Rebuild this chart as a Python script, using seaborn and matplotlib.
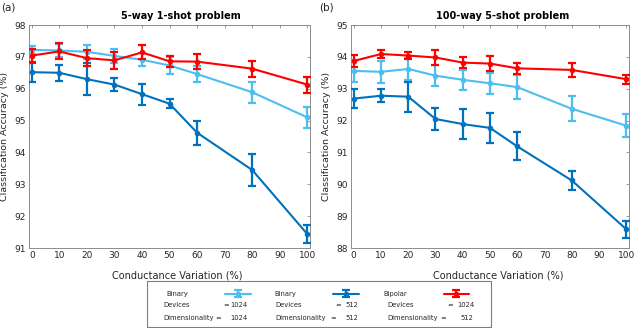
import numpy as np
import pandas as pd
import matplotlib
matplotlib.use("Agg")
import matplotlib.pyplot as plt
from matplotlib.patches import Rectangle
import seaborn as sns

# ---------------- data ----------------
variation = [0, 10, 20, 30, 40, 50, 60, 80, 100]

a_bin1024 = [97.22, 97.20, 97.16, 97.03, 96.91, 96.73, 96.46, 95.89, 95.10]
a_bin1024_err = [0.13, 0.19, 0.22, 0.22, 0.21, 0.26, 0.25, 0.33, 0.33]
a_bin512 = [96.52, 96.50, 96.30, 96.13, 95.83, 95.53, 94.62, 93.45, 91.44]
a_bin512_err = [0.30, 0.25, 0.50, 0.21, 0.33, 0.15, 0.38, 0.50, 0.28]
a_bip1024 = [97.04, 97.17, 96.96, 96.89, 97.14, 96.86, 96.85, 96.63, 96.13]
a_bip1024_err = [0.20, 0.25, 0.24, 0.27, 0.22, 0.18, 0.23, 0.25, 0.25]

b_bin1024 = [93.56, 93.53, 93.62, 93.41, 93.28, 93.17, 93.05, 92.37, 91.84]
b_bin1024_err = [0.35, 0.35, 0.34, 0.34, 0.31, 0.33, 0.38, 0.39, 0.37]
b_bin512 = [92.69, 92.78, 92.75, 92.05, 91.89, 91.77, 91.19, 90.12, 88.59]
b_bin512_err = [0.30, 0.20, 0.47, 0.35, 0.48, 0.46, 0.44, 0.29, 0.27]
b_bip1024 = [93.87, 94.09, 94.04, 93.98, 93.82, 93.79, 93.64, 93.59, 93.30]
b_bip1024_err = [0.20, 0.13, 0.12, 0.22, 0.17, 0.23, 0.18, 0.23, 0.14]

series_names = ["Binary", "Binary", "Bipolar"]
series_devices = ["1024", "512", "1024"]
series_dims = ["1024", "512", "512"]
series_colors = ["#4DBEEE", "#0072BD", "#FF0000"]

titles = ["5-way 1-shot problem", "100-way 5-shot problem"]
panel_tags = ["(a)", "(b)"]
xlabel = "Conductance Variation (%)"
ylabel = "Classification Accuracy (%)"
xticks = list(range(0, 101, 10))
a_yticks = list(range(91, 99))
b_yticks = list(range(88, 96))

panels = [
    ([a_bin1024, a_bin512, a_bip1024], [a_bin1024_err, a_bin512_err, a_bip1024_err], a_yticks),
    ([b_bin1024, b_bin512, b_bip1024], [b_bin1024_err, b_bin512_err, b_bip1024_err], b_yticks),
]

# ---------------- style ----------------
sns.set_style("white")
plt.rcParams["font.family"] = ["DejaVu Sans"]

W, H = 636, 328
fig = plt.figure(figsize=(W / 100, H / 100), dpi=100)


def fx(px):
    return px / W


def fy(py):
    return 1 - py / H


spine_c = "#8c8c8c"
text_c = "#262626"

axes_px = [(29, 310), (351, 629)]
top_px, bot_px = 25, 248
title_x = [0.539, 0.547]
xlabel_x = [0.527, 0.53]
tag_x = [1, 319]

handles = []
for i, ((ys, errs, yt), (l, r)) in enumerate(zip(panels, axes_px)):
    ax = fig.add_axes([fx(l), fy(bot_px), fx(r - l), (bot_px - top_px) / H])
    for j, (y, e, c) in enumerate(zip(ys, errs, series_colors)):
        eb = ax.errorbar(variation, y, yerr=e, fmt="none", ecolor=c,
                         elinewidth=1.6, capsize=3.2, capthick=1.6, zorder=2 + j)
        sns.lineplot(x=variation, y=y, ax=ax, color=c, linewidth=1.5,
                     marker="o", markersize=4, markeredgewidth=0, zorder=2 + j)
        line = ax.lines[-1]
        if i == 0:
            handles.append((line, eb))
    ax.set_xlim(-1, 101)
    ax.set_ylim(yt[0], yt[-1])
    ax.set_xticks(xticks)
    ax.set_yticks(yt)
    ax.tick_params(direction="in", top=True, right=True, length=2.5, width=0.6,
                   color=spine_c, labelcolor=text_c, labelsize=6.5, pad=2.5)
    for s in ax.spines.values():
        s.set_visible(True)
        s.set_color(spine_c)
        s.set_linewidth(0.7)
    ax.set_xlabel(xlabel, fontsize=7, color=text_c)
    ax.xaxis.set_label_coords(xlabel_x[i], -0.1)
    ax.set_ylabel(ylabel, fontsize=6.8, color=text_c)
    ax.yaxis.set_label_coords(-0.072, 0.5)
    ax.set_title(titles[i], fontsize=7, fontweight="bold", color="black",
                 x=title_x[i], pad=4)
    fig.text(fx(tag_x[i]), fy(8), panel_tags[i], fontsize=7.5, color=text_c,
             ha="left", va="center")

# ---------------- legend ----------------
fig.patches.append(Rectangle((fx(147), fy(327)), fx(491 - 147), (327 - 281) / H,
                             transform=fig.transFigure, fill=False,
                             edgecolor="#7f7f7f", linewidth=0.8))

lfs = 4.9
leg = fig.legend(handles, series_names, ncol=3, markerfirst=False, frameon=False,
                 fontsize=lfs, handlelength=3.8, handletextpad=5.4,
                 columnspacing=3.5, borderpad=0, loc="upper left",
                 bbox_to_anchor=(fx(163), fy(287.5)))
for t in leg.get_texts():
    t.set_color(text_c)

col_x = [163, 275, 387]
eq_dev = [223, 335, 447]
val_dev = [248, 358, 475]
eq_dim = [215, 330, 440]
val_dim = [248, 358, 473]
row2, row3 = 305, 318
for k in range(3):
    fig.text(fx(col_x[k]), fy(row2), "Devices", fontsize=lfs, color=text_c, va="center")
    fig.text(fx(eq_dev[k]), fy(row2), "=", fontsize=lfs, color=text_c, va="center")
    fig.text(fx(val_dev[k]), fy(row2), series_devices[k], fontsize=lfs, color=text_c,
             va="center", ha="right")
    fig.text(fx(col_x[k]), fy(row3), "Dimensionality", fontsize=lfs, color=text_c, va="center")
    fig.text(fx(eq_dim[k]), fy(row3), "=", fontsize=lfs, color=text_c, va="center")
    fig.text(fx(val_dim[k]), fy(row3), series_dims[k], fontsize=lfs, color=text_c,
             va="center", ha="right")

fig.savefig("out.png", dpi=100)
